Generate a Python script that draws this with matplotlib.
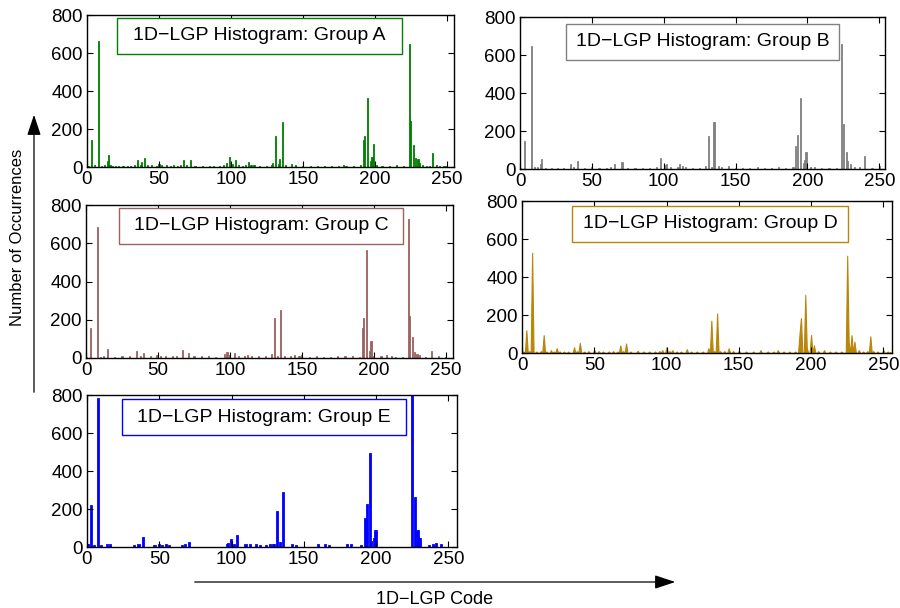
import numpy as np
import matplotlib
matplotlib.use("Agg")
import matplotlib.pyplot as plt
from matplotlib.patches import FancyArrowPatch, Rectangle

plt.rcParams['font.family'] = ['Liberation Sans', 'DejaVu Sans']

# гистограммы 1D-LGP (код -> число), остальные коды = 0
codes_a = [0, 1, 3, 5, 8, 10, 12, 14, 15, 16, 18, 20, 22, 25, 28, 30, 33, 35, 37, 38, 40, 42, 45,
           48, 50, 52, 55, 58, 60, 63, 65, 67, 69, 72, 75, 80, 85, 88, 92, 95, 97, 99, 101, 103,
           105, 108, 110, 112, 114, 116, 120, 125, 128, 129, 131, 133, 134, 136, 138, 142, 145,
           150, 155, 160, 165, 170, 175, 178, 180, 185, 190, 192, 193, 195, 197, 198, 199, 201,
           205, 210, 215, 220, 224, 225, 227, 228, 230, 231, 233, 236, 238, 240, 243, 245, 248, 250]
counts_a = [5, 5, 143, 8, 665, 5, 10, 30, 61, 8, 5, 5, 5, 5, 5, 5, 8, 35, 10, 25, 49, 8, 10,
            5, 15, 10, 8, 5, 8, 5, 10, 35, 8, 35, 5, 5, 5, 5, 5, 10, 20, 54, 15, 35,
            10, 5, 8, 26, 10, 8, 5, 5, 10, 20, 165, 15, 40, 236, 10, 15, 8,
            5, 5, 5, 5, 5, 5, 8, 5, 5, 8, 140, 161, 362, 30, 55, 123, 8,
            5, 5, 8, 5, 646, 243, 116, 50, 40, 20, 10, 5, 5, 75, 10, 5, 5, 5]

codes_b = [0, 3, 8, 10, 12, 14, 15, 18, 22, 26, 30, 35, 37, 40, 45, 50, 55, 60, 63, 66, 71,
           75, 80, 85, 90, 95, 98, 101, 102, 105, 110, 111, 113, 115, 120, 125, 129, 131, 133,
           135, 138, 140, 145, 150, 155, 160, 165, 170, 175, 180, 185, 190, 192, 193, 195, 197,
           198, 199, 202, 205, 210, 215, 220, 224, 225, 227, 228, 230, 233, 236, 240, 245, 250]
counts_b = [5, 145, 648, 10, 10, 25, 52, 5, 5, 5, 5, 26, 8, 44, 5, 10, 5, 5, 10, 25, 37,
            5, 5, 5, 5, 8, 58, 20, 25, 8, 10, 25, 15, 8, 5, 5, 15, 173, 10,
            246, 15, 10, 15, 5, 5, 5, 8, 5, 5, 10, 5, 8, 119, 180, 372, 30,
            45, 92, 10, 10, 5, 5, 5, 657, 238, 92, 40, 25, 10, 10, 66, 5, 15]

codes_c = [0, 3, 8, 10, 12, 15, 20, 25, 30, 35, 38, 40, 45, 49, 52, 55, 60, 63, 67, 71, 75,
           80, 85, 90, 96, 98, 100, 103, 106, 110, 112, 115, 120, 125, 129, 131, 133, 135, 138,
           142, 145, 148, 150, 155, 160, 165, 170, 175, 180, 185, 190, 192, 193, 195, 197, 198,
           200, 205, 209, 212, 215, 220, 224, 225, 227, 228, 230, 232, 236, 240, 245, 250]
counts_c = [5, 157, 683, 5, 8, 47, 5, 8, 8, 35, 10, 28, 8, 15, 10, 8, 8, 8, 42, 28, 8,
            8, 8, 5, 20, 30, 15, 25, 10, 10, 15, 10, 8, 8, 20, 209, 10, 249, 10,
            10, 15, 10, 15, 5, 8, 5, 5, 8, 8, 8, 5, 157, 209, 563, 35, 90,
            10, 8, 15, 8, 5, 5, 725, 221, 108, 30, 20, 15, 5, 35, 8, 5]

codes_d = [0, 1, 3, 5, 7, 10, 13, 15, 17, 20, 22, 24, 26, 29, 32, 36, 38, 40, 43, 46, 50,
           53, 56, 60, 63, 66, 68, 70, 72, 75, 80, 84, 88, 92, 95, 97, 100, 102, 104, 107,
           110, 114, 117, 121, 125, 129, 131, 133, 135, 137, 140, 143, 146, 150, 155, 160,
           165, 170, 174, 177, 181, 185, 189, 192, 193, 196, 197, 200, 202, 205, 209, 213,
           217, 221, 225, 226, 228, 230, 233, 236, 239, 241, 243, 246, 250, 253, 255]
counts_d = [5, 8, 120, 10, 528, 8, 10, 94, 8, 15, 8, 25, 8, 8, 8, 30, 10, 53, 8, 10, 15,
            10, 8, 8, 10, 8, 40, 10, 50, 8, 12, 8, 8, 8, 10, 15, 30, 10, 15, 8,
            8, 20, 8, 8, 8, 25, 170, 10, 208, 10, 10, 25, 10, 10, 8, 8,
            15, 8, 8, 15, 8, 8, 8, 100, 184, 306, 30, 95, 40, 10, 15, 8,
            8, 8, 512, 60, 94, 60, 15, 8, 10, 88, 10, 8, 15, 8, 5]

codes_e = [0, 1, 3, 5, 8, 10, 14, 16, 33, 36, 39, 47, 50, 52, 55, 57, 66, 68, 71, 97, 98, 100,
           102, 104, 110, 113, 117, 120, 124, 127, 129, 130, 132, 134, 136, 142, 145, 160, 165,
           168, 180, 183, 190, 193, 194, 196, 197, 199, 200, 225, 227, 229, 230, 231, 237, 240,
           242, 245]
counts_e = [10, 8, 218, 5, 777, 5, 8, 10, 5, 8, 49, 5, 8, 5, 8, 5, 5, 10, 20, 10, 15, 39,
            10, 56, 8, 8, 8, 5, 5, 8, 8, 10, 183, 20, 285, 8, 5, 8, 8,
            5, 8, 8, 5, 149, 220, 489, 25, 40, 83, 850, 258, 84, 40, 40, 5, 10,
            15, 8]

names = ['A', 'B', 'C', 'D', 'E']
colors = ['#008000', '#808080', '#9b6262', '#b8860b', '#0000ff']

W, H = 900, 608
# позиции осей в пикселях: left, top, right, bottom
boxes = [(87, 15, 454, 167), (520, 17, 885, 169), (86, 205, 453, 358),
         (522, 201, 892, 353), (87, 395, 457, 547)]
xmax = [255, 254, 255, 256, 256]
# рамки подписей групп (пиксели)
leg_boxes = [(117, 18, 402, 54), (566, 24, 839, 60), (119, 208, 403, 244),
             (572, 206, 848, 242), (122, 399, 406, 435)]

data = [(codes_a, counts_a), (codes_b, counts_b), (codes_c, counts_c),
        (codes_d, counts_d), (codes_e, counts_e)]

fig = plt.figure(figsize=(W / 100, H / 100), dpi=100)

for i, (codes, counts) in enumerate(data):
    l, t, r, b = boxes[i]
    ax = fig.add_axes([l / W, 1 - b / H, (r - l) / W, (b - t) / H])
    c = colors[i]
    if names[i] == 'D':
        y = np.zeros(256)
        y[codes] = counts
        ax.fill_between(np.arange(256), y, color=c, linewidth=0.8, edgecolor=c)
    else:
        lw = 1.3 if names[i] == 'E' else 0.6
        ax.bar(codes, counts, width=0.8, color=c, edgecolor=c, linewidth=lw)
    ax.set_xlim(0, xmax[i])
    ax.set_ylim(0, 800)
    ax.set_xticks([0, 50, 100, 150, 200, 250])
    ax.set_yticks([0, 200, 400, 600, 800])
    ax.tick_params(direction='in', top=True, right=True, length=4, width=0.8,
                   labelsize=13.5, pad=3)
    for s in ax.spines.values():
        s.set_linewidth(1.0)

    bl, bt, br, bb = leg_boxes[i]
    fig.add_artist(Rectangle((bl / W, 1 - bb / H), (br - bl) / W, (bb - bt) / H,
                             transform=fig.transFigure, facecolor='white', edgecolor=c,
                             linewidth=1.0, zorder=3))
    fig.text((bl + br) / 2 / W, 1 - (bt + bb) / 2 / H, '1D\u2212LGP Histogram: Group ' + names[i],
             ha='center', va='center', fontsize=14, zorder=4)

# стрелки осей
fig.add_artist(FancyArrowPatch((34 / W, 1 - 395 / H), (34 / W, 1 - 112 / H),
                               transform=fig.transFigure, arrowstyle='-|>,head_length=0.9,head_width=0.3',
                               mutation_scale=14, color='black', linewidth=0.9))
fig.add_artist(FancyArrowPatch((192 / W, 1 - 582 / H), (678 / W, 1 - 582 / H),
                               transform=fig.transFigure, arrowstyle='-|>,head_length=0.9,head_width=0.3',
                               mutation_scale=14, color='black', linewidth=0.9))
fig.text(18 / W, 1 - 237 / H, 'Number of Occurrences', rotation=90, ha='center', va='center',
         fontsize=12)
fig.text(435 / W, 1 - 599 / H, '1D\u2212LGP Code', ha='center', va='center', fontsize=13)

fig.savefig('out.png', dpi=100)
